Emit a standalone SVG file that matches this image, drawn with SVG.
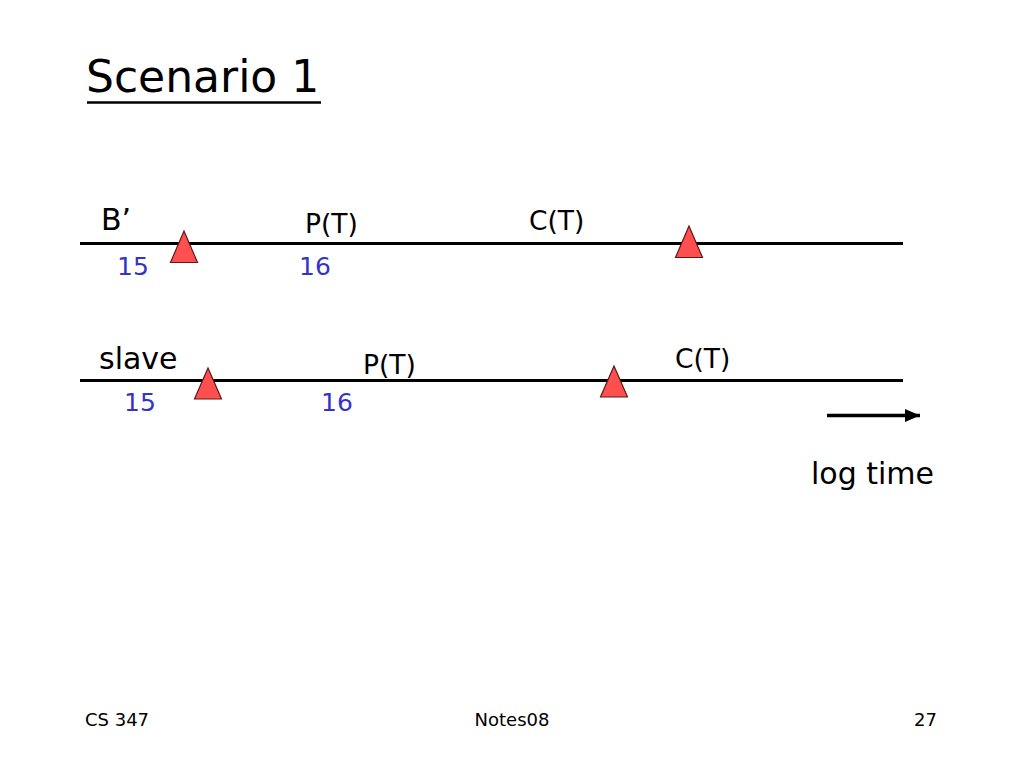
<svg xmlns="http://www.w3.org/2000/svg" width="1024" height="768" viewBox="0 0 1024 768">
<style>
text{font-family:"DejaVu Sans","Verdana",sans-serif;fill:#000}
.lbl{font-size:26.5px}
.big{font-size:30px}
.num{font-size:25px;fill:#3333CC}
.foot{font-size:18px}
.tl{stroke:#000;stroke-width:3;fill:none}
.tri{fill:#FF4F4F;stroke:#601818;stroke-width:1.2;stroke-linejoin:miter}
</style>
<defs>
<marker id="ah" viewBox="0 0 15 13" refX="15" refY="6.5" markerWidth="15" markerHeight="13" markerUnits="userSpaceOnUse" orient="auto">
<path d="M0,0 L15,6.5 L0,13 z" fill="#000"/>
</marker>
</defs>
<rect width="1024" height="768" fill="#fff"/>
<g id="title">
<text x="86" y="92" style="font-size:44px">Scenario 1</text>
<line x1="87" y1="102.5" x2="321" y2="102.5" stroke="#000" stroke-width="2.5"/>
</g>
<g id="connectors">
<line class="tl" x1="80" y1="243.5" x2="903" y2="243.5"/>
<line class="tl" x1="80" y1="380.5" x2="903" y2="380.5"/>
<line x1="827" y1="415.5" x2="920" y2="415.5" stroke="#000" stroke-width="3.5" marker-end="url(#ah)"/>
</g>
<g id="node-bprime">
<text class="big" x="101" y="230">B’</text>
<text class="num" x="117" y="275">15</text>
<polygon class="tri" points="184,231 170.5,262.5 197.5,262.5"/>
<text class="lbl" x="305" y="233">P(T)</text>
<text class="num" x="299" y="275">16</text>
<text class="lbl" x="529" y="230">C(T)</text>
<polygon class="tri" points="689,226 675.5,257.5 702.5,257.5"/>
</g>
<g id="node-slave">
<text class="big" x="99" y="369">slave</text>
<text class="num" x="124" y="411">15</text>
<polygon class="tri" points="208,368 194.5,399 221.5,399"/>
<text class="lbl" x="363" y="374">P(T)</text>
<text class="num" x="321" y="411">16</text>
<text class="lbl" x="675" y="368">C(T)</text>
<polygon class="tri" points="614,366 600.5,397 627.5,397"/>
</g>
<g id="legend">
<text class="big" x="811" y="484">log time</text>
</g>
<g id="footer">
<text class="foot" x="85" y="726">CS 347</text>
<text class="foot" x="512" y="726" text-anchor="middle">Notes08</text>
<text class="foot" x="937" y="726" text-anchor="end">27</text>
</g>
</svg>
